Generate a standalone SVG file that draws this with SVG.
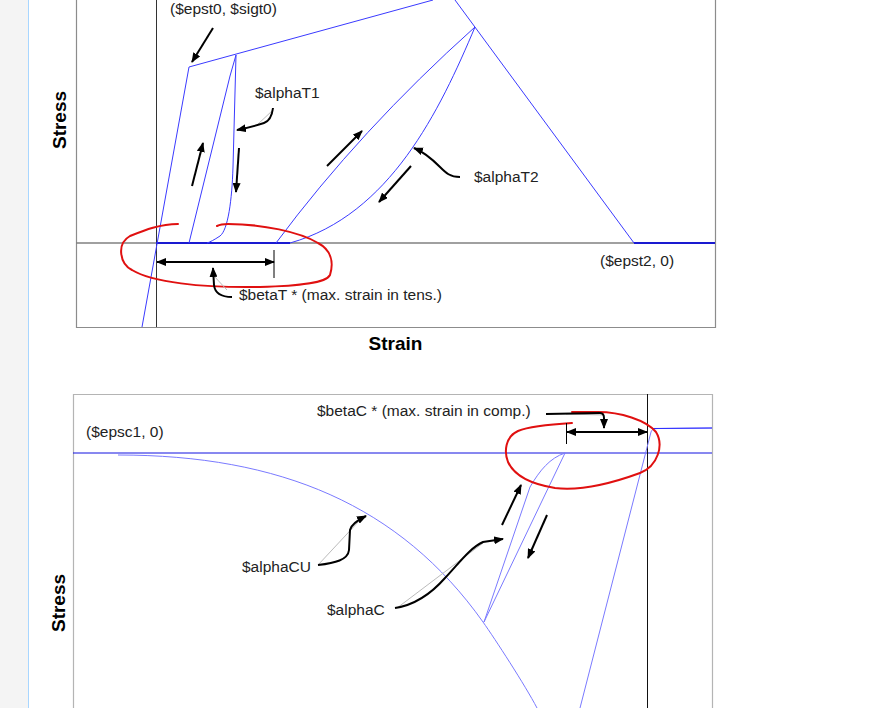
<svg xmlns="http://www.w3.org/2000/svg" width="896" height="708" viewBox="0 0 896 708">
<style>
text{font-family:"Liberation Sans",Arial,sans-serif;font-size:15.5px;fill:#222}
.ax{font-weight:bold;font-size:19px;fill:#000}
.cv{fill:none;stroke:#3a3aff;stroke-width:1}
.cvl{fill:none;stroke:#7a7aff;stroke-width:1}
.ar{fill:none;stroke:#000;stroke-width:2;marker-end:url(#ah)}
.ghost{fill:none;stroke:#bbb;stroke-width:1}
.red{fill:none;stroke:#e01010;stroke-width:2;stroke-linecap:round}
</style>
<defs>
<marker id="ah" viewBox="0 0 10 8" refX="9" refY="4" markerWidth="10" markerHeight="8" markerUnits="userSpaceOnUse" orient="auto-start-reverse">
<path d="M0,0 L10,4 L0,8 z" fill="#000"/>
</marker>
</defs>
<rect x="0" y="0" width="896" height="708" fill="#fff"/>
<rect x="0" y="0" width="28" height="708" fill="#f4f4f4"/>
<line x1="28.5" y1="0" x2="28.5" y2="708" stroke="#a8d6ff" stroke-width="1"/>

<g id="top-plot">
<path d="M76.5,0 V327.5 H715.5 V0" fill="none" stroke="#8c8c8c" stroke-width="1.2"/>
<line x1="76" y1="243" x2="715" y2="243" stroke="#808080" stroke-width="1.6"/>
<line x1="156.5" y1="0" x2="156.5" y2="327" stroke="#333" stroke-width="1"/>
<line x1="156" y1="243" x2="290" y2="243" stroke="#1a1ad0" stroke-width="2"/>
<line x1="634" y1="243" x2="715" y2="243" stroke="#1a1ad0" stroke-width="2"/>
<path class="cv" d="M142,327 L189,67 L433,0"/>
<path class="cv" d="M455,0 L634,243"/>
<path class="cv" d="M189,243 L230,76 L236,55"/>
<path class="cv" d="M236,55 L233,167 C232,200 228,230 220,236 C214,240 210,242 207,243"/>
<path class="cv" d="M276,243 Q360,130 475,27"/>
<path class="cv" d="M475,27 C440,110 390,215 290,243"/>
</g>

<g id="bottom-plot">
<path d="M73.5,708 V394.5 H712.5 V708" fill="none" stroke="#b4b4b4" stroke-width="1.2"/>
<line x1="73" y1="453" x2="712" y2="453" stroke="#1010e0" stroke-width="1"/>
<line x1="647.5" y1="394" x2="647.5" y2="708" stroke="#111" stroke-width="1"/>
<path class="cvl" d="M118,455 C280,455 400,505 483,622 C495,639 525,685 537,708"/>
<path class="cvl" d="M580,708 L651,432 C652,429 654,428.5 660,428.5 L712,428"/>
<line x1="652" y1="428.5" x2="712" y2="428" stroke="#2a2aff" stroke-width="1"/>
<path class="cvl" d="M484,622 L530,487 C540,470 550,458 565,453"/>
<path class="cvl" d="M484,622 L565,453"/>
</g>

<g id="annotations">
<path class="red" d="M178,224 C160,224 145,230 130,236 C116,244 120,264 132,270 C152,282 200,288 260,287 C300,286 326,283 330,275 C334,262 331,250 318,243 C300,232 262,224 228,224 C222,224 219,225 217,226"/>
<path class="red" d="M572,423 C555,424 530,426 518,431 C505,437 504,452 508,462 C514,475 530,484 555,488 C580,491 610,484 640,473 C658,466 664,445 656,432 C646,420 620,412 598,412 L572,412"/>
</g>

<g id="connectors">
<path class="ghost" d="M213,275 L227,290"/>
<path class="ghost" d="M273,110 L257,125"/>
<path class="ghost" d="M318,565 L360,520"/>
<path class="ghost" d="M397,608 L483,543"/>
<path class="ghost" d="M566,414 L604,415"/>
<path class="ar" d="M213,28 L192,62"/>
<path class="ar" d="M192,186 L203,143"/>
<path class="ar" d="M239,148 L236,192"/>
<path class="ar" d="M273,108 C272,116 270,121 264,123 C255,126 247,128 237,130"/>
<path class="ar" d="M327,166 L362,131"/>
<path class="ar" d="M411,166 L379,202"/>
<path class="ar" d="M460,177 C450,177 446,173 440,167 C431,158 424,152 414,148"/>
<line x1="274" y1="250" x2="274" y2="278" stroke="#000" stroke-width="1"/>
<path class="ar" d="M157,262 L274,262" marker-start="url(#ah)"/>
<path class="ar" d="M232,297 C222,297 215,294 214,285 L213,268"/>
<path class="ar" d="M318,565 C335,563 348,560 349,550 L350,530 C351,525 356,521 366,516"/>
<path class="ar" d="M395,608 C415,605 430,595 445,578 C460,562 470,548 483,542 L503,539"/>
<path class="ar" d="M502,525 L521,485"/>
<path class="ar" d="M547,515 L528,558"/>
<line x1="566.5" y1="423" x2="566.5" y2="444" stroke="#000" stroke-width="1"/>
<path class="ar" d="M567,432 L647,432" marker-start="url(#ah)"/>
<path class="ar" d="M546,414 L600,413 C603,413 604,415 604,418 L604,428"/>
</g>

<g id="labels">
<text x="170" y="14">($epst0, $sigt0)</text>
<text x="255" y="98">$alphaT1</text>
<text x="474" y="182">$alphaT2</text>
<text x="600" y="266">($epst2, 0)</text>
<text x="239" y="300">$betaT * (max. strain in tens.)</text>
<text class="ax" x="395.5" y="350" text-anchor="middle">Strain</text>
<text class="ax" transform="translate(66,120) rotate(-90)" text-anchor="middle">Stress</text>
<text x="317" y="416">$betaC * (max. strain in comp.)</text>
<text x="86" y="437">($epsc1, 0)</text>
<text x="242" y="572">$alphaCU</text>
<text x="327" y="615">$alphaC</text>
<text class="ax" transform="translate(64.5,603) rotate(-90)" text-anchor="middle">Stress</text>
</g>
</svg>
